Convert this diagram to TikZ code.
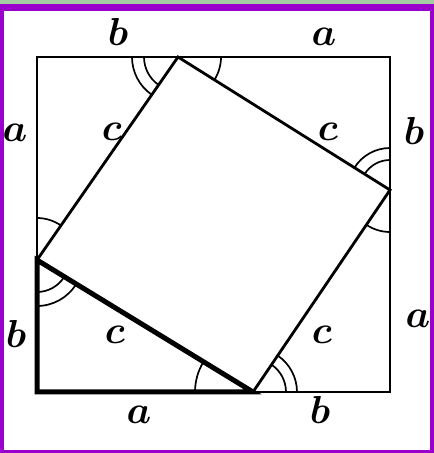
\documentclass[tikz,border=0pt]{standalone}
\definecolor{framepurple}{RGB}{153,0,204}
\definecolor{stripgreen}{RGB}{165,205,165}
\begin{document}
\begin{tikzpicture}[x=1pt,y=1pt,
  edge/.style={line width=2.8pt, line join=miter},
  heavy/.style={line width=5pt, line join=miter},
  anglemark/.style={line width=1.7pt},
  lbl/.style={anchor=base, inner sep=0pt, font=\fontsize{10}{12}\selectfont\boldmath, scale=3.9}
]
\useasboundingbox (0,0) rectangle (434,453);
% frame
\fill[framepurple] (0,0) rectangle (434,450);
\fill[stripgreen] (0,449) rectangle (434,453);
\fill[white] (4,3) rectangle (430,442);
% vertices
\coordinate (TL) at (37,396);
\coordinate (TR) at (390,396);
\coordinate (BR) at (390,61);
\coordinate (BL) at (37,61);
\coordinate (T) at (178,396);
\coordinate (R) at (390,263);
\coordinate (B) at (253,61);
\coordinate (L) at (37,193);
% outer square
\draw[edge] (L) -- (TL) -- (TR) -- (BR) -- (B);
% inner square
\draw[edge] (T) -- (R) -- (B) -- (L) -- cycle;
% heavy triangle
\draw[heavy] (L) -- (BL) -- (B) -- cycle;
% angle marks
\draw[anglemark] (T) ++(180:34) arc[start angle=180, end angle=235.2, radius=34];
\draw[anglemark] (T) ++(180:46) arc[start angle=180, end angle=235.2, radius=46];
\draw[anglemark] (T) ++(327.9:43) arc[start angle=327.9, end angle=360, radius=43];
\draw[anglemark] (R) ++(90:30) arc[start angle=90, end angle=147.9, radius=30];
\draw[anglemark] (R) ++(90:42) arc[start angle=90, end angle=147.9, radius=42];
\draw[anglemark] (R) ++(235.9:42) arc[start angle=235.9, end angle=270, radius=42];
\draw[anglemark] (B) ++(0:33) arc[start angle=0, end angle=55.9, radius=33];
\draw[anglemark] (B) ++(0:44) arc[start angle=0, end angle=55.9, radius=44];
\draw[anglemark] (B) ++(148.6:58) arc[start angle=148.6, end angle=180, radius=58];
\draw[anglemark] (L) ++(270:32) arc[start angle=270, end angle=328.6, radius=32];
\draw[anglemark] (L) ++(270:46) arc[start angle=270, end angle=328.6, radius=46];
\draw[anglemark] (L) ++(55.2:42) arc[start angle=55.2, end angle=90, radius=42];
% labels
\node[lbl] (tb) at (118,407) {$b$};
\node[lbl] (ta) at (324,407) {$a$};
\node[lbl] (ba) at (139,30) {$a$};
\node[lbl] (bb) at (320,30) {$b$};
\node[lbl] (la) at (15,311) {$a$};
\node[lbl] (lb) at (16,106) {$b$};
\node[lbl] (rb) at (414,308) {$b$};
\node[lbl] (ra) at (418,125) {$a$};
\node[lbl] (c1) at (112,312) {$c$};
\node[lbl] (c2) at (328,312) {$c$};
\node[lbl] (c3) at (115,110) {$c$};
\node[lbl] (c4) at (322,110) {$c$};
\end{tikzpicture}
\end{document}
